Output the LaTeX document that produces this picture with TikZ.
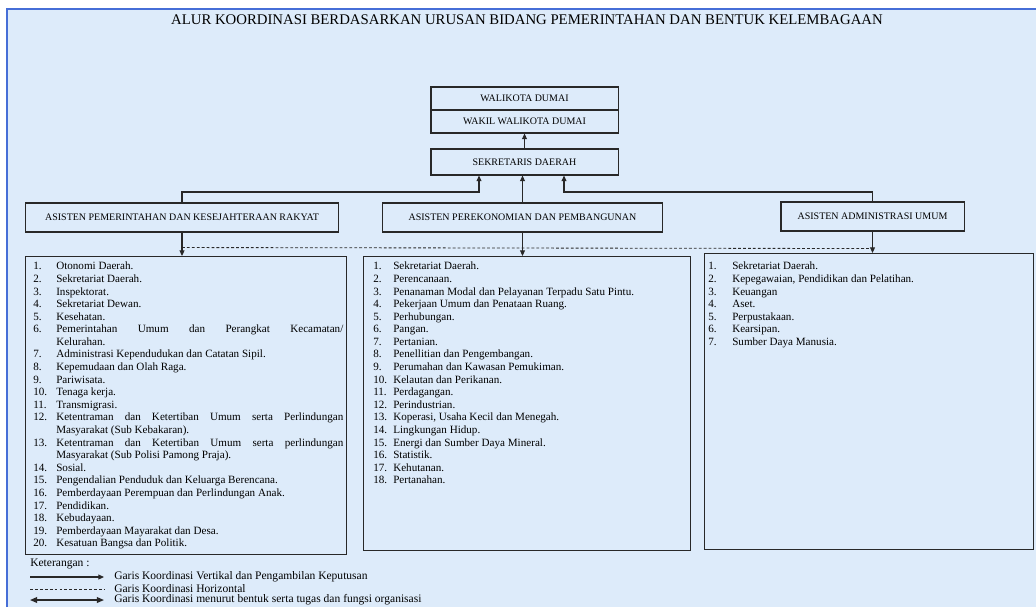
\documentclass[tikz,border=0pt]{standalone}
\usepackage{fontspec}
\setmainfont{Liberation Serif}
\usetikzlibrary{arrows.meta}

\definecolor{pagebg}{RGB}{221,235,250}
\definecolor{edgeblue}{RGB}{70,110,215}
\definecolor{ink}{RGB}{40,40,40}

\newlength{\numw}
\newcommand{\lstitem}[2]{\par\noindent\hangindent=\numw\hangafter=1\makebox[\numw][l]{#1}#2}

\begin{document}
\begin{tikzpicture}[x=0.025cm,y=-0.025cm,
  box/.style={draw=ink,line width=0.75pt,inner sep=0pt,font=\fontsize{7.1}{8}\selectfont},
  listbox/.style={draw=ink,line width=0.75pt,anchor=north west,inner sep=0pt},
  listtext/.style={anchor=north west,inner sep=0pt,align=justify,font=\fontsize{7.9}{8.95}\selectfont},
  legtext/.style={anchor=west,inner sep=0pt,font=\fontsize{8.2}{9}\selectfont},
  vline/.style={draw=ink,line width=0.75pt,-{Triangle[length=4pt,width=3.5pt]}},
  hline/.style={draw=ink,line width=0.6pt,dash pattern=on 2pt off 1.5pt}]
\useasboundingbox (0,0) rectangle (1036,607);

% Page
\fill[pagebg] (7,9) rectangle (1036,607);
\draw[edgeblue,line width=1.4pt] (7,607) -- (7,9) -- (1036,9);
\node[font=\fontsize{10.5}{12}\selectfont] (title) at (527,20)
  {ALUR KOORDINASI BERDASARKAN URUSAN BIDANG PEMERINTAHAN DAN BENTUK KELEMBAGAAN};

% Pimpinan
\node[box,minimum width=4.675cm,minimum height=0.575cm] (wali) at (524.5,98.5) {WALIKOTA DUMAI};
\node[box,minimum width=4.675cm,minimum height=0.575cm] (wakil) at (524.5,121.5) {WAKIL WALIKOTA DUMAI};
\node[box,minimum width=4.675cm,minimum height=0.65cm] (sekda) at (524.5,162) {SEKRETARIS DAERAH};

% Asisten
\node[box,minimum width=7.8cm,minimum height=0.725cm] (asis1) at (182,217.5) {ASISTEN PEMERINTAHAN DAN KESEJAHTERAAN RAKYAT};
\node[box,minimum width=6.975cm,minimum height=0.725cm] (asis2) at (522.5,217.5) {ASISTEN PEREKONOMIAN DAN PEMBANGUNAN};
\node[box,minimum width=4.575cm,minimum height=0.725cm] (asis3) at (872.5,216.5) {ASISTEN ADMINISTRASI UMUM};

% Urusan
\node[listbox,minimum width=8.025cm,minimum height=7.45cm] (lst1) at (25,256) {};
\node[listbox,minimum width=8.175cm,minimum height=7.35cm] (lst2) at (363,256) {};
\node[listbox,minimum width=8.225cm,minimum height=7.4cm] (lst3) at (704,253) {};

\node[listtext,text width=7.75cm] (txt1) at (33,257) {\setlength{\numw}{0.575cm}\parskip=0pt%
  \lstitem{1.}{Otonomi Daerah.}
  \lstitem{2.}{Sekretariat Daerah.}
  \lstitem{3.}{Inspektorat.}
  \lstitem{4.}{Sekretariat Dewan.}
  \lstitem{5.}{Kesehatan.}
  \lstitem{6.}{Pemerintahan Umum dan Perangkat Kecamatan/\linebreak Kelurahan.}
  \lstitem{7.}{Administrasi Kependudukan dan Catatan Sipil.}
  \lstitem{8.}{Kepemudaan dan Olah Raga.}
  \lstitem{9.}{Pariwisata.}
  \lstitem{10.}{Tenaga kerja.}
  \lstitem{11.}{Transmigrasi.}
  \lstitem{12.}{Ketentraman dan Ketertiban Umum serta Perlindungan\linebreak Masyarakat (Sub Kebakaran).}
  \lstitem{13.}{Ketentraman dan Ketertiban Umum serta perlindungan\linebreak Masyarakat (Sub Polisi Pamong Praja).}
  \lstitem{14.}{Sosial.}
  \lstitem{15.}{Pengendalian Penduduk dan Keluarga Berencana.}
  \lstitem{16.}{Pemberdayaan Perempuan dan Perlindungan Anak.}
  \lstitem{17.}{Pendidikan.}
  \lstitem{18.}{Kebudayaan.}
  \lstitem{19.}{Pemberdayaan Mayarakat dan Desa.}
  \lstitem{20.}{Kesatuan Bangsa dan Politik.}};

\node[listtext,text width=7.875cm] (txt2) at (373,257) {\setlength{\numw}{0.5cm}\parskip=0pt%
  \lstitem{1.}{Sekretariat Daerah.}
  \lstitem{2.}{Perencanaan.}
  \lstitem{3.}{Penanaman Modal dan Pelayanan Terpadu Satu Pintu.}
  \lstitem{4.}{Pekerjaan Umum dan Penataan Ruang.}
  \lstitem{5.}{Perhubungan.}
  \lstitem{6.}{Pangan.}
  \lstitem{7.}{Pertanian.}
  \lstitem{8.}{Penellitian dan Pengembangan.}
  \lstitem{9.}{Perumahan dan Kawasan Pemukiman.}
  \lstitem{10.}{Kelautan dan Perikanan.}
  \lstitem{11.}{Perdagangan.}
  \lstitem{12.}{Perindustrian.}
  \lstitem{13.}{Koperasi, Usaha Kecil dan Menegah.}
  \lstitem{14.}{Lingkungan Hidup.}
  \lstitem{15.}{Energi dan Sumber Daya Mineral.}
  \lstitem{16.}{Statistik.}
  \lstitem{17.}{Kehutanan.}
  \lstitem{18.}{Pertanahan.}};

\node[listtext,text width=8cm] (txt3) at (708,257) {\setlength{\numw}{0.6cm}\parskip=0pt%
  \lstitem{1.}{Sekretariat Daerah.}
  \lstitem{2.}{Kepegawaian, Pendidikan dan Pelatihan.}
  \lstitem{3.}{Keuangan}
  \lstitem{4.}{Aset.}
  \lstitem{5.}{Perpustakaan.}
  \lstitem{6.}{Kearsipan.}
  \lstitem{7.}{Sumber Daya Manusia.}};

% Garis koordinasi
\coordinate (jL) at (479,192);
\coordinate (jR) at (564,192);
\draw[vline] (asis1.north) |- (jL) -- (jL |- sekda.south);
\draw[vline] (asis2.north) -- (asis2.north |- sekda.south);
\draw[vline] (asis3.north) |- (jR) -- (jR |- sekda.south);
\draw[vline] (sekda.north) -- (wakil.south);

\path (asis1.south) ++(0,15) coordinate (dL);
\path (asis3.south) ++(0,17) coordinate (dR);
\draw[hline] (dL) -- (dR);

\draw[vline] (asis1.south) -- (asis1.south |- lst1.north);
\draw[vline] (asis2.south) -- (asis2.south |- lst2.north);
\draw[vline] (asis3.south) -- (asis3.south |- lst3.north);

% Keterangan
\node[legtext] (ket) at (30,564) {Keterangan :};
\node[legtext] (lg1) at (114,577) {Garis Koordinasi Vertikal dan Pengambilan Keputusan};
\node[legtext] (lg2) at (114,589) {Garis Koordinasi Horizontal};
\node[legtext] (lg3) at (114,600) {Garis Koordinasi menurut bentuk serta tugas dan fungsi organisasi};
\coordinate (k1) at (30,577);
\coordinate (k2) at (30,589);
\coordinate (k3) at (30,600);
\draw[vline] (k1) -- ([xshift=-0.25cm]lg1.west);
\draw[hline] (k2) -- ([xshift=-0.25cm]lg2.west);
\draw[vline,line width=1pt,{Triangle[length=5pt,width=4pt]}-{Triangle[length=5pt,width=4pt]}] (k3) -- ([xshift=-0.25cm]lg3.west);
\end{tikzpicture}
\end{document}
